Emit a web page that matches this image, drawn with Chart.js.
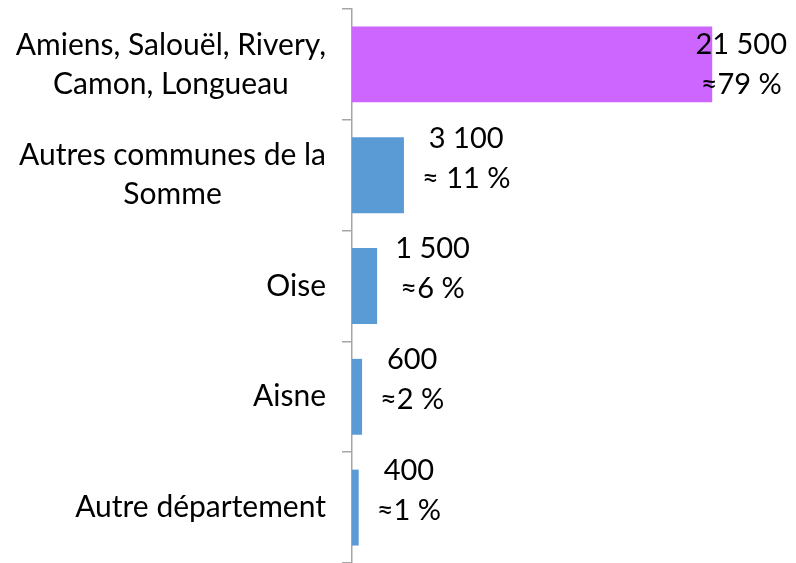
<!DOCTYPE html>
<html>
<head>
<meta charset="utf-8">
<script src="https://cdn.jsdelivr.net/npm/chart.js@4/dist/chart.umd.min.js"></script>
<style>
  html, body { margin: 0; padding: 0; background: #fff; }
  #wrap { width: 796px; height: 563px; position: relative; }
</style>
</head>
<body>
<div id="wrap"><canvas id="chart"></canvas></div>
<script>
const categories = [
  ['Amiens, Salouël, Rivery,', 'Camon, Longueau'],
  ['Autres communes de la', 'Somme'],
  ['Oise'],
  ['Aisne'],
  ['Autre département']
];
const values = [21500, 3100, 1500, 600, 400];
const valueLabels = ['21 500', '3 100', '1 500', '600', '400'];
const shareLabels = ['≈79 %', '≈ 11 %', '≈6 %', '≈2 %', '≈1 %'];
const barColors = ['#CC66FF', '#5B9BD5', '#5B9BD5', '#5B9BD5', '#5B9BD5'];

const FONT = '30px Lato';
const LINE_H = 39;

// category labels: block right-aligned against the axis, lines centred inside it
const categoryLabels = {
  id: 'categoryLabels',
  afterDraw(chart) {
    const { ctx, scales: { y } } = chart;
    ctx.save();
    ctx.font = FONT;
    ctx.fillStyle = '#000';
    ctx.textAlign = 'center';
    ctx.textBaseline = 'middle';
    categories.forEach((lines, i) => {
      const yc = y.getPixelForValue(i);
      const w = Math.max(...lines.map((l) => ctx.measureText(l).width));
      const cx = 326 - w / 2;
      lines.forEach((l, k) => {
        ctx.fillText(l, cx, yc + (k - (lines.length - 1) / 2) * LINE_H);
      });
    });
    ctx.restore();
  }
};

// data labels: value + share, two centred lines beside the bar end
const dataLabels = {
  id: 'dataLabels',
  afterDatasetsDraw(chart) {
    const { ctx } = chart;
    const meta = chart.getDatasetMeta(0);
    ctx.save();
    ctx.font = '29px Lato';
    ctx.fillStyle = '#000';
    ctx.textAlign = 'center';
    ctx.textBaseline = 'middle';
    meta.data.forEach((bar, i) => {
      const lines = [valueLabels[i], shareLabels[i]];
      const w = Math.max(...lines.map((l) => ctx.measureText(l).width));
      let cx = bar.x + 18 + w / 2;
      let yc = bar.y - 17;
      if (cx + w / 2 > 787) { cx = 787 - w / 2; yc = bar.y; }
      lines.forEach((l, k) => ctx.fillText(l, cx, yc + (k - 0.5) * 40));
    });
    ctx.restore();
  }
};

new Chart(document.getElementById('chart'), {
  type: 'bar',
  data: {
    labels: categories,
    datasets: [{
      data: values,
      backgroundColor: barColors,
      borderWidth: 0,
      barPercentage: 0.685,
      categoryPercentage: 1
    }]
  },
  options: {
    indexAxis: 'y',
    responsive: true,
    maintainAspectRatio: false,
    animation: false,
    layout: { padding: { top: 9, right: 0, bottom: 0, left: 0 } },
    plugins: { legend: { display: false }, tooltip: { enabled: false } },
    scales: {
      x: { display: false, min: 0, max: 26500 },
      y: {
        afterFit: (scale) => { scale.width = 352; },
        ticks: { display: false },
        border: { display: true, color: '#A6A6A6', width: 1.5 },
        grid: { drawOnChartArea: false, drawTicks: true, tickLength: 10, color: '#A6A6A6', lineWidth: 1.5, offset: true }
      }
    }
  },
  plugins: [categoryLabels, dataLabels]
});
</script>
</body>
</html>
